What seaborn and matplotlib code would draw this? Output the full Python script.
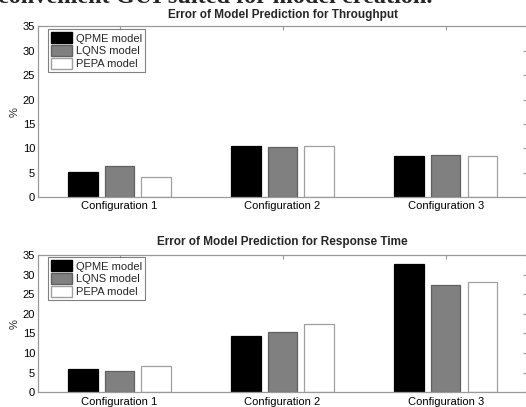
import matplotlib
matplotlib.use("Agg")
import matplotlib.pyplot as plt
import seaborn as sns
import pandas as pd

categories = ["Configuration 1", "Configuration 2", "Configuration 3"]
models = ["QPME model", "LQNS model", "PEPA model"]
throughput_qpme = [5.1, 10.4, 8.5]
throughput_lqns = [6.4, 10.3, 8.6]
throughput_pepa = [4.1, 10.5, 8.4]
response_qpme = [5.9, 14.3, 32.6]
response_lqns = [5.4, 15.4, 27.4]
response_pepa = [6.6, 17.3, 28.1]
yticks = [0, 5, 10, 15, 20, 25, 30, 35]
title_top = "Error of Model Prediction for Throughput"
title_bottom = "Error of Model Prediction for Response Time"
header_text = "convenient GUI suited for model creation."

def make_df(a, b, c):
    rows = []
    for m, vals in zip(models, [a, b, c]):
        for cat, v in zip(categories, vals):
            rows.append({"cat": cat, "model": m, "val": v})
    return pd.DataFrame(rows)

sns.set_theme(style="white")
plt.rcParams["font.family"] = ["Liberation Sans", "DejaVu Sans"]

fig = plt.figure(figsize=(5.26, 4.07), dpi=100)
fig.patch.set_facecolor("white")

fills = {"QPME model": "#000000", "LQNS model": "#808080", "PEPA model": "#ffffff"}
edges = ["#000000", "#606060", "#a0a0a0"]
spine_col = "#9a9a9a"

def draw(ax, df, title, pad):
    sns.barplot(data=df, x="cat", y="val", hue="model", order=categories,
                hue_order=models, palette=fills, width=0.672, gap=0.2,
                ax=ax, saturation=1, errorbar=None, legend=True)
    for cont, ec in zip(ax.containers, edges):
        for p in cont:
            p.set_edgecolor(ec)
            p.set_linewidth(0.9)
    ax.set_xlim(-0.5, 2.5)
    ax.set_ylim(0, 35)
    ax.set_yticks(yticks)
    ax.set_xlabel("")
    ax.set_ylabel("%", fontsize=8, labelpad=2)
    ax.set_title(title, fontsize=8.5, fontweight="bold", pad=pad)
    for s in ax.spines.values():
        s.set_visible(True)
        s.set_color(spine_col)
        s.set_linewidth(0.9)
    ax.tick_params(axis="both", direction="in", length=3, width=0.8,
                   color=spine_col, labelsize=8, labelcolor="black",
                   top=True, right=True, pad=2)
    ax.tick_params(axis="x", pad=3)
    leg = ax.legend(loc="upper left", fontsize=8, frameon=True, fancybox=False,
                    handlelength=1.9, handleheight=1.15, borderpad=0.3,
                    labelspacing=0.12, handletextpad=0.3,
                    bbox_to_anchor=(0.02, 0.985), borderaxespad=0)
    leg.get_frame().set_edgecolor("#606060")
    leg.get_frame().set_linewidth(0.8)
    for h, ec in zip(leg.legend_handles, edges):
        h.set_edgecolor(ec)

ax1 = fig.add_axes([0.0722, 0.516, 0.930, 0.419])
draw(ax1, make_df(throughput_qpme, throughput_lqns, throughput_pepa), title_top, 6)
ax2 = fig.add_axes([0.0722, 0.036, 0.930, 0.3375])
draw(ax2, make_df(response_qpme, response_lqns, response_pepa), title_bottom, 7)

fig.text(-0.004, 0.9915, header_text, fontsize=17.5, fontweight="bold",
         family=["Liberation Serif", "DejaVu Serif"], va="baseline", ha="left")

fig.savefig("out.png", dpi=100, facecolor="white")
